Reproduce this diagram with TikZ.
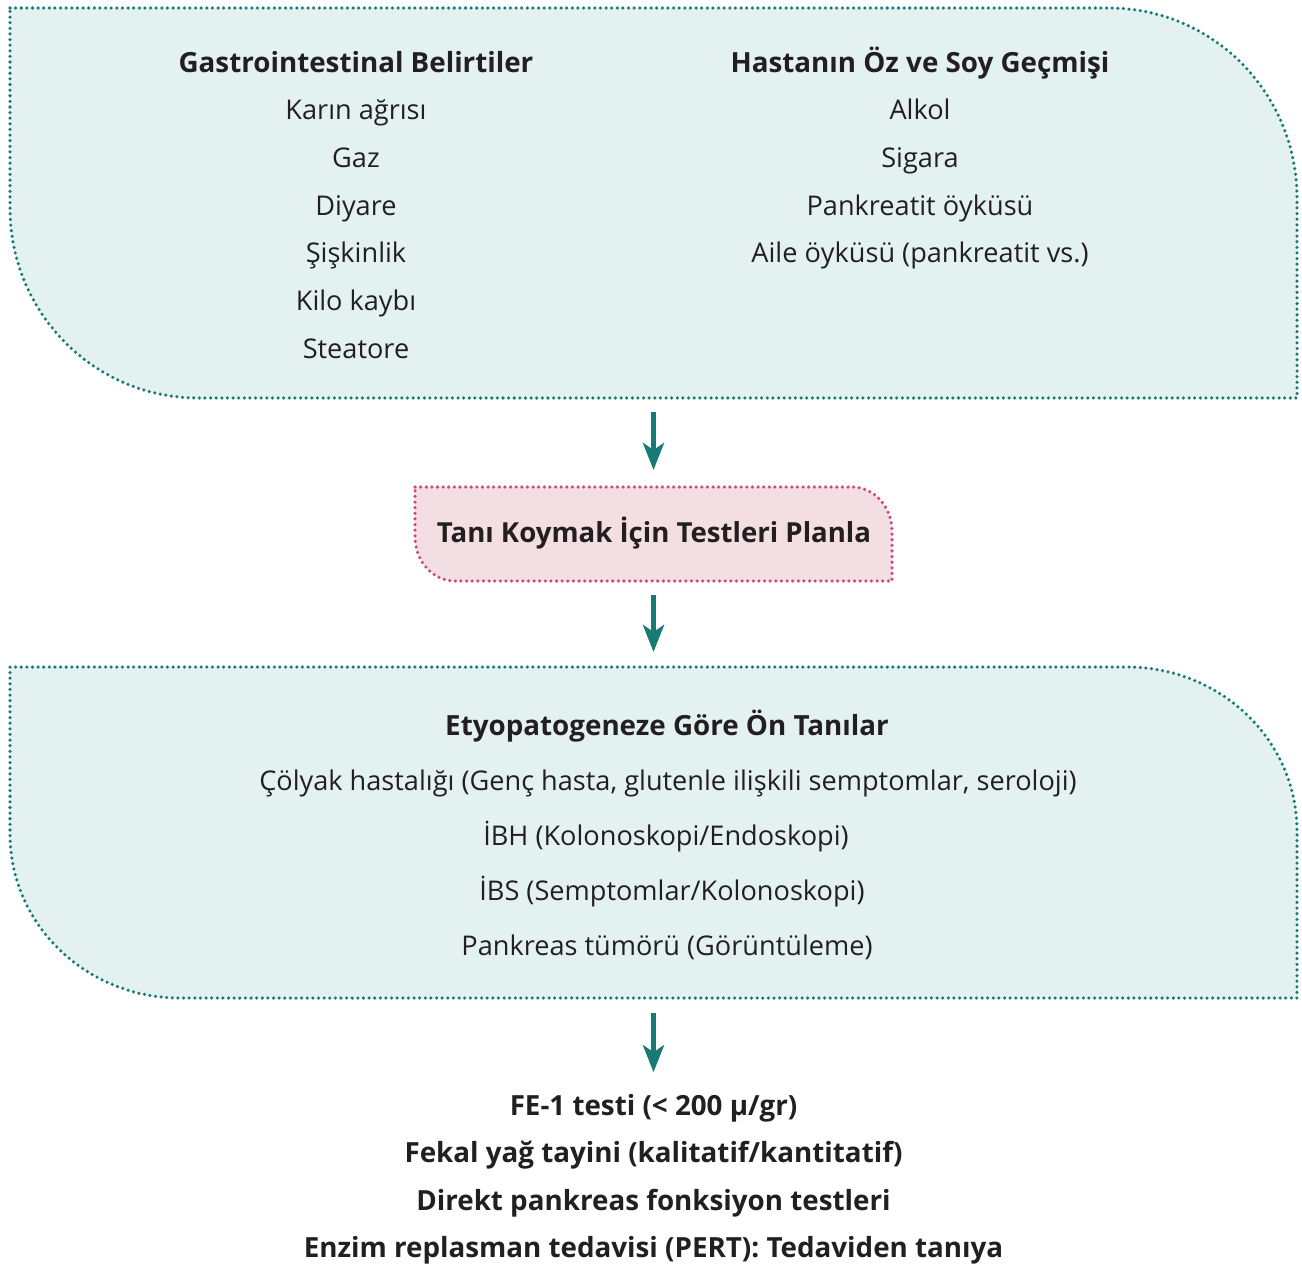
\documentclass[tikz,border=0pt]{standalone}
\usepackage{fontspec}
\setmainfont{Open Sans}
\usetikzlibrary{arrows.meta}

\definecolor{teal1}{HTML}{177A74}
\definecolor{tealfill}{HTML}{E3F2F1}
\definecolor{pinkline}{HTML}{D0457F}
\definecolor{pinkfill}{HTML}{F3DEE3}
\definecolor{ink}{HTML}{231F20}

% box with two rounded corners (top right, bottom left)
\newcommand\leafbox[4]{%
  \path[#4] (#1.north west) -- ([xshift=-#2cm]#1.north east)
    arc[start angle=90,end angle=0,x radius=#2cm,y radius=#3cm]
    -- (#1.south east) -- ([xshift=#2cm]#1.south west)
    arc[start angle=270,end angle=180,x radius=#2cm,y radius=#3cm] -- cycle;}

\tikzset{
  frame/.style={inner sep=0pt,outer sep=0pt},
  dots/.style={line width=1pt,line cap=round,dash pattern=on 0pt off 1.6pt},
  tealbox/.style={dots,draw=teal1,fill=tealfill},
  pinkbox/.style={dots,draw=pinkline,fill=pinkfill},
  item/.style={anchor=base,inner sep=0pt,text=ink,font=\fontsize{7.72}{9}\selectfont},
  head/.style={item,font=\fontsize{7.9}{9}\selectfont\bfseries},
  arr/.style={-{Stealth[length=0.27cm,width=0.21cm,inset=0.07cm]},line width=1.4pt,draw=teal1}
}

\begin{document}
\begin{tikzpicture}
\useasboundingbox (0,0) rectangle (13.02,-12.70);

% boxes
\node[frame,minimum width=12.87cm,minimum height=3.90cm] (oyku) at (6.535,-2.03){};
\node[frame,minimum width=4.77cm,minimum height=0.94cm] (plan) at (6.535,-5.34){};
\node[frame,minimum width=12.87cm,minimum height=3.31cm] (ontani) at (6.535,-8.325){};
\leafbox{oyku}{1.88}{1.9}{tealbox}
\leafbox{plan}{0.40}{0.44}{pinkbox}
\leafbox{ontani}{1.70}{1.64}{tealbox}

% top box
\node[head] (gih) at (3.56,-0.72){Gastrointestinal Belirtiler};
\foreach \t [count=\i] in {Karın ağrısı,Gaz,Diyare,Şişkinlik,Kilo kaybı,Steatore}
  \node[item] (gi\i) at (3.56,{-0.72-0.4767*\i}){\t};
\node[head] (gech) at (9.20,-0.72){Hastanın Öz ve Soy Geçmişi};
\foreach \t [count=\i] in {Alkol,Sigara,Pankreatit öyküsü,Aile öyküsü (pankreatit vs.)}
  \node[item] (ge\i) at (9.20,{-0.72-0.4767*\i}){\t};

% middle box
\node[head,font=\fontsize{7.85}{10}\selectfont\bfseries] (plant) at (6.54,-5.42){Tanı Koymak İçin Testleri Planla};

% lower box
\node[head] (onh) at (6.67,-7.35){Etyopatogeneze Göre Ön Tanılar};
\node[item] (on1) at (6.68,-7.90){Çölyak hastalığı (Genç hasta, glutenle ilişkili semptomlar, seroloji)};
\node[item] (on2) at (6.66,-8.45){İBH (Kolonoskopi/Endoskopi)};
\node[item] (on3) at (6.72,-9.00){İBS (Semptomlar/Kolonoskopi)};
\node[item] (on4) at (6.67,-9.55){Pankreas tümörü (Görüntüleme)};

% tests
\node[head] (fe1) at (6.535,-11.15){FE-1 testi (< 200 µ/gr)};
\node[head] (fekal) at (6.535,-11.62){Fekal yağ tayini (kalitatif/kantitatif)};
\node[head] (direkt) at (6.535,-12.10){Direkt pankreas fonksiyon testleri};
\node[head] (pert) at (6.535,-12.57){Enzim replasman tedavisi (PERT): Tedaviden tanıya};

% arrows
\draw[arr] ([yshift=-0.14cm]oyku.south) -- ([yshift=0.17cm]plan.north);
\draw[arr] ([yshift=-0.14cm]plan.south) -- ([yshift=0.15cm]ontani.north);
\draw[arr] ([yshift=-0.15cm]ontani.south) -- ([yshift=0.21cm]fe1.north);

\end{tikzpicture}
\end{document}
